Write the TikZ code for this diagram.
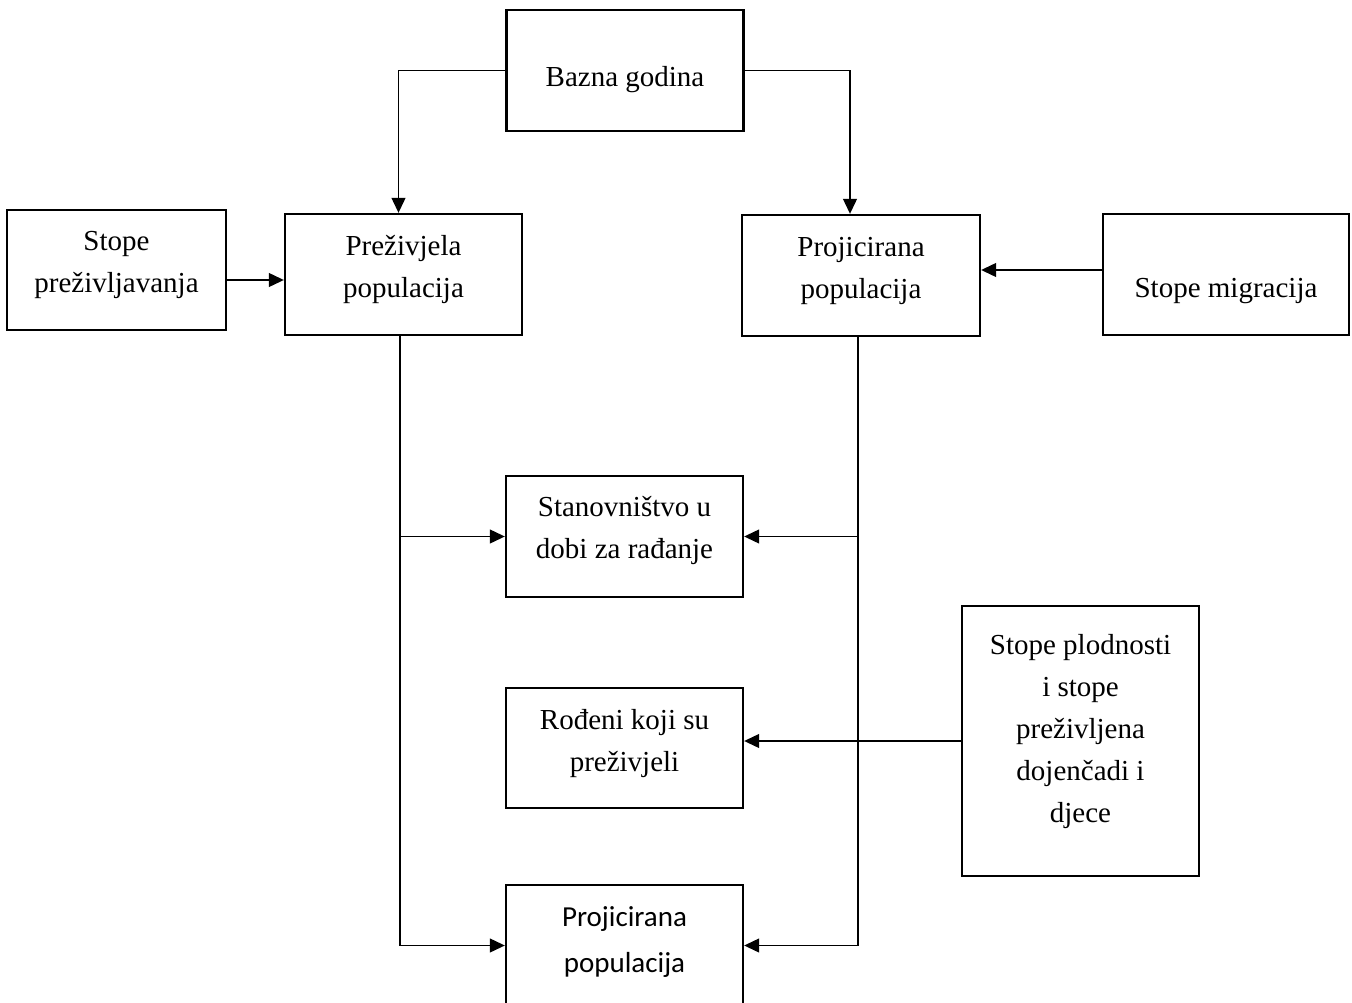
\documentclass[tikz,border=0pt]{standalone}
\usepackage{fontspec}
\setmainfont{Liberation Serif}
\newfontfamily\calfont{Carlito}
\usepackage{tikz}
\usetikzlibrary{arrows.meta,positioning}
\newcommand{\boxtext}[2]{\raisebox{#1}[\height][\depth]{\begin{tabular}{@{}c@{}}#2\end{tabular}}}

\begin{document}
\begin{tikzpicture}[x=1pt,y=-1pt,
  box/.style={draw, line width=2.4pt, inner sep=0pt,
    minimum width=237pt, minimum height=121pt,
    font=\fontsize{29}{42}\selectfont},
  arr/.style={line width=1.2pt, -{Triangle[length=15pt,width=14pt]}}]
\useasboundingbox (0,0) rectangle (1352,1003);
  \node[box] (baza) at (625,70.5) {\boxtext{-8pt}{Bazna godina}};
  \node[box, minimum width=219pt, minimum height=120pt] (stpr) at (116.5,270) {\boxtext{6.5pt}{Stope\\preživljavanja}};
  \node[box] (prez) at (403.5,274.5) {\boxtext{6pt}{Preživjela\\populacija}};
  \node[box, minimum width=238pt] (proj) at (861,275.5) {\boxtext{6.5pt}{Projicirana\\populacija}};
  \node[box, minimum width=246pt] (migr) at (1226,274.5) {\boxtext{-15pt}{Stope migracija}};
  \node[box] (stan) at (624.5,536.5) {\boxtext{7.5pt}{Stanovništvo u\\dobi za rađanje}};
  \node[box, minimum height=120pt] (rod) at (624.5,748) {\boxtext{6pt}{Rođeni koji su\\preživjeli}};
  \node[box, minimum height=270pt] (plod) at (1080.5,741) {\boxtext{10.5pt}{Stope plodnosti\\i stope\\preživljena\\dojenčadi i\\djece}};
  \node[box, font=\calfont\fontsize{29}{46}\selectfont] (projb) at (624.5,945.5) {\boxtext{5.5pt}{Projicirana\\populacija}};

  \draw[arr] (baza.west) -| ([xshift=-5pt]prez.north);
  \draw[arr] (baza.east) -| ([xshift=-11pt]proj.north);
  \draw[arr] ([yshift=-10pt]stpr.east) -- ([yshift=-10pt]stpr.east -| prez.west);
  \draw[arr] ([yshift=4.5pt]migr.west) -- ([yshift=4.5pt]migr.west -| proj.east);
  \draw[arr] ([xshift=-3.5pt]prez.south) |- (projb.west);
  \draw[arr] ([xshift=-3.5pt]prez.south |- stan.west) -- (stan.west);
  \draw[arr] ([xshift=-3pt]proj.south) |- (projb.east);
  \draw[arr] ([xshift=-3pt]proj.south |- stan.east) -- (stan.east);
  \draw[arr] (plod.west) -- (plod.west -| rod.east);
\end{tikzpicture}
\end{document}
